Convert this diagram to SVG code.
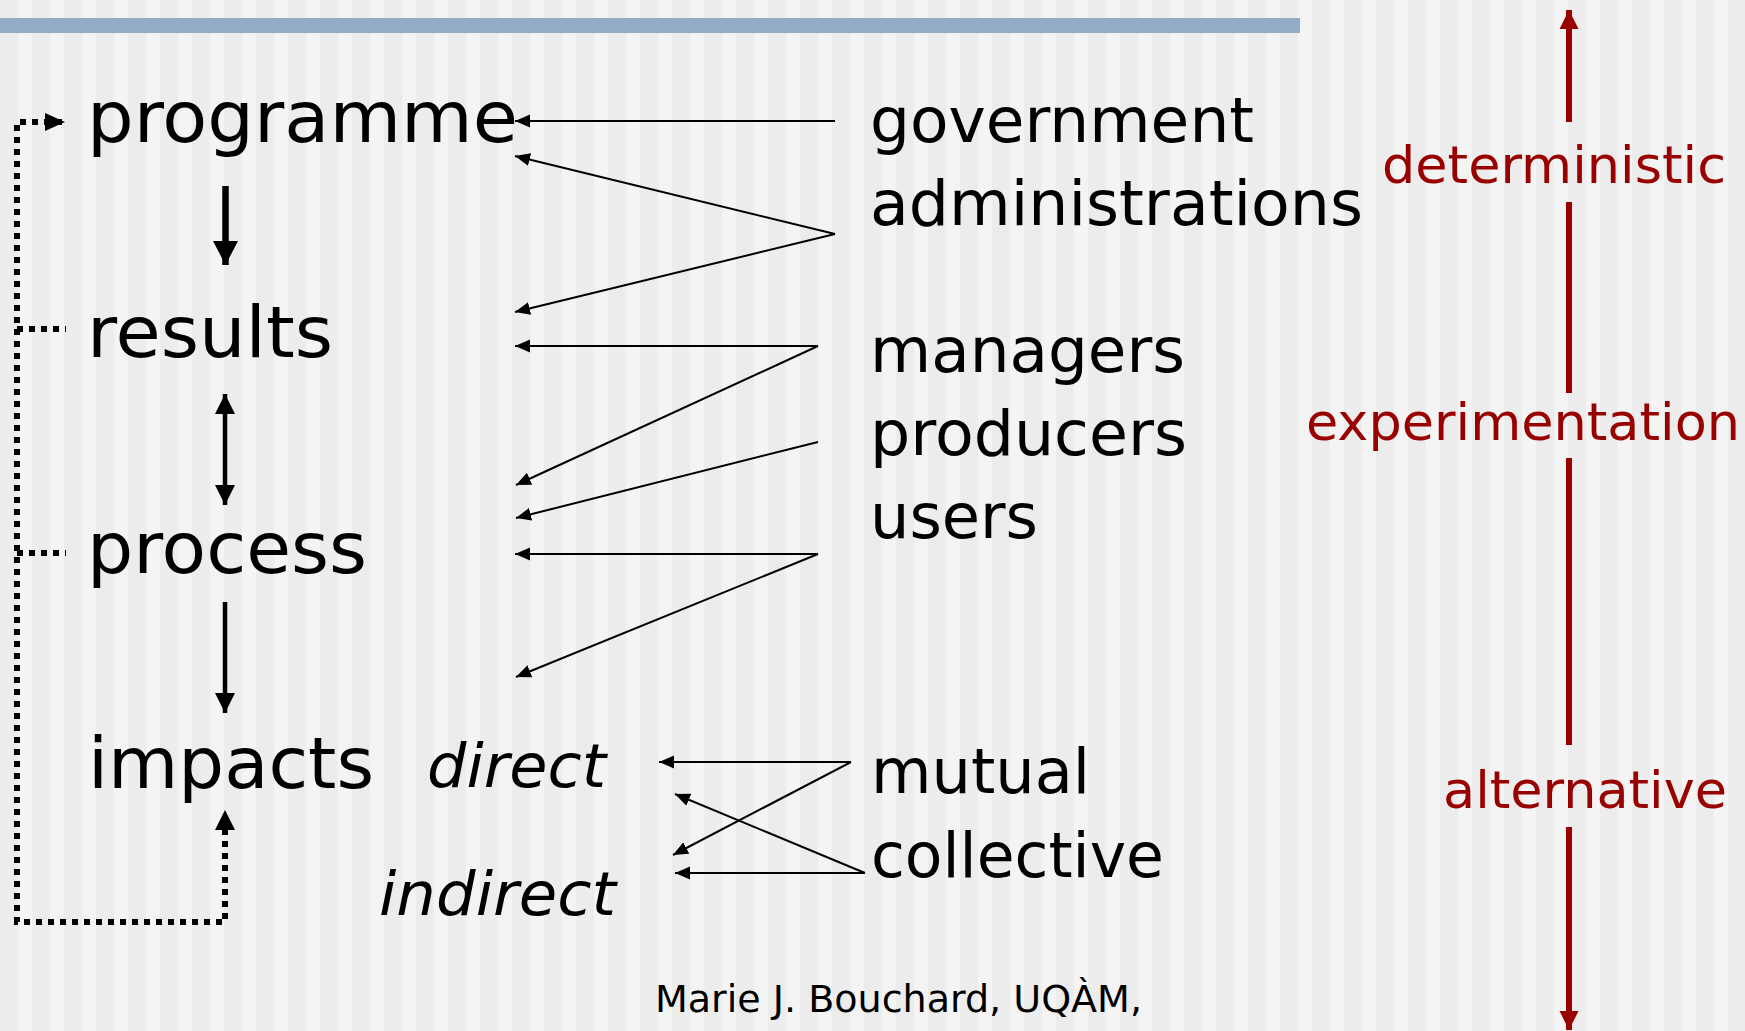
<svg xmlns="http://www.w3.org/2000/svg" width="1745" height="1031" viewBox="0 0 1745 1031">
<defs>
<pattern id="stripes" x="0" y="0" width="32" height="1031" patternUnits="userSpaceOnUse">
<rect x="0" y="0" width="32" height="1031" fill="#ececec"/>
<rect x="18" y="0" width="15" height="1031" fill="#f4f4f4"/>
</pattern>
<marker id="thin" markerUnits="userSpaceOnUse" markerWidth="16" markerHeight="14" refX="15" refY="6.5" orient="auto">
<path d="M0,0 L15,6.5 L0,13 z" fill="#000"/>
</marker>
<marker id="thick" markerUnits="userSpaceOnUse" markerWidth="25" markerHeight="26" refX="24" refY="12.5" orient="auto">
<path d="M0,0 L24,12.5 L0,25 z" fill="#000"/>
</marker>
<marker id="mid" markerUnits="userSpaceOnUse" markerWidth="21" markerHeight="21" refX="20" refY="10" orient="auto">
<path d="M0,0 L20,10 L0,20 z" fill="#000"/>
</marker>
<marker id="midstart" markerUnits="userSpaceOnUse" markerWidth="21" markerHeight="21" refX="0" refY="10" orient="auto">
<path d="M20,0 L0,10 L20,20 z" fill="#000"/>
</marker>
<marker id="red" markerUnits="userSpaceOnUse" markerWidth="20" markerHeight="20" refX="19" refY="9.5" orient="auto">
<path d="M0,0 L19,9.5 L0,19 z" fill="#990000"/>
</marker>
</defs>
<style>
.main{font-family:"DejaVu Sans",Verdana,sans-serif;font-size:72px;fill:#000}
.side{font-family:"DejaVu Sans",Verdana,sans-serif;font-size:62px;fill:#000}
.ital{font-family:"DejaVu Sans",Verdana,sans-serif;font-size:60px;font-style:italic;fill:#000}
.redt{font-family:"DejaVu Sans",Verdana,sans-serif;font-size:52px;fill:#990000}
.foot{font-family:"DejaVu Sans",Verdana,sans-serif;font-size:37px;fill:#000}
.thin{stroke:#000;stroke-width:2;fill:none;marker-end:url(#thin)}
.dot{stroke:#000;stroke-width:6;fill:none;stroke-dasharray:6 6}
.redl{stroke:#990000;stroke-width:6;fill:none}
</style>
<rect x="0" y="0" width="1745" height="1031" fill="url(#stripes)"/>
<rect x="0" y="18" width="1300" height="15" fill="#92abc6"/>

<g id="node-programme"><text class="main" x="87" y="142" textLength="431" lengthAdjust="spacingAndGlyphs">programme</text></g>
<g id="node-results"><text class="main" x="87" y="357" textLength="246" lengthAdjust="spacingAndGlyphs">results</text></g>
<g id="node-process"><text class="main" x="87" y="573" textLength="280" lengthAdjust="spacingAndGlyphs">process</text></g>
<g id="node-impacts"><text class="main" x="88" y="788" textLength="286" lengthAdjust="spacingAndGlyphs">impacts</text></g>
<g id="node-direct"><text class="ital" x="427" y="787" textLength="179" lengthAdjust="spacingAndGlyphs">direct</text></g>
<g id="node-indirect"><text class="ital" x="379" y="915" textLength="237" lengthAdjust="spacingAndGlyphs">indirect</text></g>

<g id="node-government"><text class="side" x="870" y="142" textLength="384" lengthAdjust="spacingAndGlyphs">government</text></g>
<g id="node-administrations"><text class="side" x="870" y="225" textLength="493" lengthAdjust="spacingAndGlyphs">administrations</text></g>
<g id="node-managers"><text class="side" x="870" y="372" textLength="315" lengthAdjust="spacingAndGlyphs">managers</text></g>
<g id="node-producers"><text class="side" x="870" y="455" textLength="317" lengthAdjust="spacingAndGlyphs">producers</text></g>
<g id="node-users"><text class="side" x="870" y="538" textLength="168" lengthAdjust="spacingAndGlyphs">users</text></g>
<g id="node-mutual"><text class="side" x="871" y="793" textLength="219" lengthAdjust="spacingAndGlyphs">mutual</text></g>
<g id="node-collective"><text class="side" x="871" y="877" textLength="293" lengthAdjust="spacingAndGlyphs">collective</text></g>

<g id="node-deterministic"><text class="redt" x="1382" y="183" textLength="344" lengthAdjust="spacingAndGlyphs">deterministic</text></g>
<g id="node-experimentation"><text class="redt" x="1306" y="440" textLength="434" lengthAdjust="spacingAndGlyphs">experimentation</text></g>
<g id="node-alternative"><text class="redt" x="1443" y="808" textLength="284" lengthAdjust="spacingAndGlyphs">alternative</text></g>

<g id="footer"><text class="foot" x="655" y="1012" textLength="487" lengthAdjust="spacingAndGlyphs">Marie J. Bouchard, UQÀM,</text></g>

<g id="connectors">
<line class="thin" x1="835" y1="121" x2="515" y2="121"/>
<line class="thin" x1="835" y1="234" x2="515" y2="156"/>
<line class="thin" x1="835" y1="234" x2="515" y2="312"/>
<line class="thin" x1="818" y1="346" x2="515" y2="346"/>
<line class="thin" x1="818" y1="346" x2="516" y2="485"/>
<line class="thin" x1="818" y1="442" x2="516" y2="518"/>
<line class="thin" x1="818" y1="554" x2="515" y2="554"/>
<line class="thin" x1="818" y1="554" x2="516" y2="677"/>

<line class="thin" x1="851" y1="762" x2="659" y2="762"/>
<line class="thin" x1="851" y1="762" x2="673" y2="855"/>
<line class="thin" x1="865" y1="873" x2="675" y2="794"/>
<line class="thin" x1="865" y1="873" x2="675" y2="873"/>

<line x1="225.5" y1="186" x2="225.5" y2="265" stroke="#000" stroke-width="6.5" marker-end="url(#thick)"/>
<line x1="225" y1="394" x2="225" y2="505" stroke="#000" stroke-width="4.5" marker-start="url(#midstart)" marker-end="url(#mid)"/>
<line x1="225" y1="602" x2="225" y2="713" stroke="#000" stroke-width="4.5" marker-end="url(#mid)"/>

<path class="dot" d="M62,122 L17,122 L17,922 L225,922 L225,828"/>
<polygon points="45,113 65,122 45,131" fill="#000"/>
<polygon points="215,830 225,810 235,830" fill="#000"/>
<line class="dot" x1="17" y1="329" x2="66" y2="329"/>
<line class="dot" x1="17" y1="553" x2="66" y2="553"/>

<line class="redl" x1="1569" y1="122" x2="1569" y2="10" marker-end="url(#red)"/>
<line class="redl" x1="1569" y1="202" x2="1569" y2="393"/>
<line class="redl" x1="1569" y1="458" x2="1569" y2="745"/>
<line class="redl" x1="1569" y1="827" x2="1569" y2="1030" marker-end="url(#red)"/>
</g>
</svg>
